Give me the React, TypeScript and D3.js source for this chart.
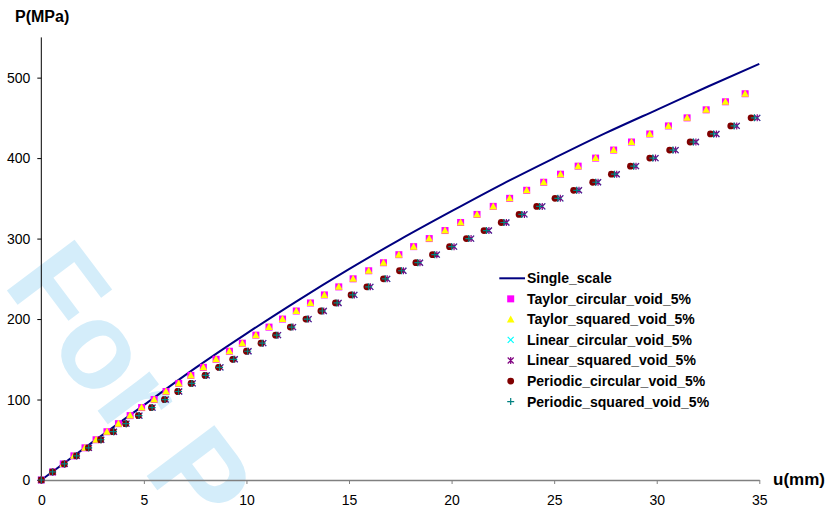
import {useEffect, useRef} from 'react';
import * as d3 from 'd3';

// Single scale curve (u in mm, P in MPa)
const singleU = [0, 2.5, 5, 7.5, 10, 12.5, 15, 17.5, 20, 22.5, 25, 27.5, 30, 32.5, 35];
const singleP = [0, 47, 93, 139, 182, 223, 262, 299, 334, 368, 400, 431, 460, 489, 517];

// Taylor model points
const taylorP = [0, 10, 20, 30, 40, 50, 60, 70, 80, 90, 100, 110, 120, 130, 140, 150, 160, 170, 180, 190, 200,
  210, 220, 230, 240, 250, 260, 270, 280, 290, 300, 310, 320, 330, 340, 350, 360, 370, 380, 390, 400,
  410, 420, 430, 440, 450, 460, 470, 480];
const taylorCircU = [0, 0.55, 1.07, 1.59, 2.13, 2.67, 3.2, 3.76, 4.33, 4.89, 5.5, 6.08, 6.7, 7.29, 7.9, 8.52,
  9.17, 9.8, 10.46, 11.1, 11.76, 12.43, 13.12, 13.8, 14.5, 15.2, 15.96, 16.68, 17.43, 18.15, 18.91, 19.68,
  20.44, 21.24, 22.03, 22.83, 23.66, 24.49, 25.31, 26.17, 27.02, 27.9, 28.77, 29.66, 30.57, 31.48, 32.41,
  33.35, 34.31];
const taylorSqU = [0, 0.55, 1.07, 1.59, 2.13, 2.67, 3.2, 3.76, 4.33, 4.89, 5.5, 6.08, 6.7, 7.29, 7.9, 8.52,
  9.17, 9.8, 10.46, 11.1, 11.76, 12.43, 13.12, 13.8, 14.5, 15.2, 15.96, 16.68, 17.43, 18.15, 18.91, 19.68,
  20.44, 21.24, 22.03, 22.83, 23.66, 24.49, 25.31, 26.17, 27.02, 27.9, 28.77, 29.66, 30.57, 31.48, 32.41,
  33.35, 34.31];

// Linear / Periodic model points
const otherP = [0, 10, 20, 30, 40, 50, 60, 70, 80, 90, 100, 110, 120, 130, 140, 150, 160, 170, 180, 190, 200,
  210, 220, 230, 240, 250, 260, 270, 280, 290, 300, 310, 320, 330, 340, 350, 360, 370, 380, 390, 400,
  410, 420, 430, 440, 450];
const linearCircU = [0, 0.56, 1.14, 1.73, 2.32, 2.92, 3.54, 4.15, 4.78, 5.42, 6.06, 6.72, 7.38, 8.06, 8.73,
  9.43, 10.1, 10.82, 11.54, 12.27, 13.03, 13.77, 14.49, 15.26, 16.04, 16.86, 17.65, 18.46, 19.28, 20.12,
  20.95, 21.82, 22.67, 23.55, 24.42, 25.3, 26.21, 27.14, 28.05, 28.99, 29.94, 30.92, 31.91, 32.91, 33.9, 34.9];
const linearSqU = [0, 0.56, 1.14, 1.73, 2.32, 2.92, 3.54, 4.15, 4.78, 5.42, 6.06, 6.72, 7.38, 8.06, 8.73,
  9.43, 10.1, 10.82, 11.54, 12.27, 13.03, 13.77, 14.49, 15.26, 16.04, 16.86, 17.65, 18.46, 19.28, 20.12,
  20.95, 21.82, 22.67, 23.55, 24.42, 25.3, 26.21, 27.14, 28.05, 28.99, 29.94, 30.92, 31.91, 32.91, 33.9, 34.9];
const periodicCircU = [0, 0.55, 1.12, 1.71, 2.29, 2.89, 3.5, 4.11, 4.73, 5.37, 6.0, 6.65, 7.3, 7.98, 8.64,
  9.33, 10.0, 10.71, 11.42, 12.14, 12.9, 13.63, 14.34, 15.1, 15.87, 16.68, 17.46, 18.26, 19.07, 19.9, 20.72,
  21.58, 22.42, 23.29, 24.15, 25.04, 25.95, 26.88, 27.79, 28.72, 29.66, 30.63, 31.63, 32.62, 33.61, 34.6];
const periodicSqU = [0, 0.55, 1.13, 1.72, 2.31, 2.91, 3.52, 4.13, 4.76, 5.4, 6.03, 6.69, 7.34, 8.02, 8.69,
  9.38, 10.06, 10.77, 11.48, 12.21, 12.97, 13.7, 14.42, 15.18, 15.96, 16.77, 17.56, 18.36, 19.18, 20.01,
  20.84, 21.7, 22.55, 23.42, 24.29, 25.18, 26.1, 27.03, 27.94, 28.88, 29.81, 30.79, 31.78, 32.77, 33.77, 34.76];

const xTicks = [0, 5, 10, 15, 20, 25, 30, 35];
const yTicks = [0, 100, 200, 300, 400, 500];

const series = [
  {name: 'Taylor_circular_void_5%', u: taylorCircU, p: taylorP, marker: 'square', color: '#ff00ff'},
  {name: 'Taylor_squared_void_5%', u: taylorSqU, p: taylorP, marker: 'triangle', color: '#ffff00'},
  {name: 'Linear_circular_void_5%', u: linearCircU, p: otherP, marker: 'x', color: '#00ffff'},
  {name: 'Linear_squared_void_5%', u: linearSqU, p: otherP, marker: 'asterisk', color: '#800080'},
  {name: 'Periodic_circular_void_5%', u: periodicCircU, p: otherP, marker: 'circle', color: '#800000'},
  {name: 'Periodic_squared_void_5%', u: periodicSqU, p: otherP, marker: 'plus', color: '#008080'},
];

const drawMarker = (g, kind, color, x, y) => {
  if (kind === 'square') {
    g.append('rect').attr('x', x - 3.5).attr('y', y - 3.5).attr('width', 7).attr('height', 7).attr('fill', color);
  } else if (kind === 'triangle') {
    g.append('path').attr('d', `M${x},${y - 4}L${x + 3.8},${y + 3}L${x - 3.8},${y + 3}Z`).attr('fill', color);
  } else if (kind === 'circle') {
    g.append('circle').attr('cx', x).attr('cy', y).attr('r', 3.4).attr('fill', color);
  } else if (kind === 'x') {
    g.append('path').attr('d', `M${x - 3},${y - 3}L${x + 3},${y + 3}M${x + 3},${y - 3}L${x - 3},${y + 3}`)
      .attr('stroke', color).attr('stroke-width', 1.2);
  } else if (kind === 'asterisk') {
    g.append('path').attr('d', `M${x - 3},${y - 3}L${x + 3},${y + 3}M${x + 3},${y - 3}L${x - 3},${y + 3}M${x},${y - 3.5}L${x},${y + 3.5}`)
      .attr('stroke', color).attr('stroke-width', 1.2);
  } else if (kind === 'plus') {
    g.append('path').attr('d', `M${x - 3.5},${y}L${x + 3.5},${y}M${x},${y - 3.5}L${x},${y + 3.5}`)
      .attr('stroke', color).attr('stroke-width', 1.2);
  }
};

const Chart = ({width, height}) => {
  const svgRef = useRef(null);

  useEffect(() => {
    const svg = d3.select(svgRef.current);
    svg.selectAll('*').remove();
    svg.attr('width', width).attr('height', height);

    const font = '"Liberation Sans", Arial, sans-serif';

    // Watermark (runs off the page, as in the original)
    svg.append('text')
      .attr('transform', 'translate(2, 284) rotate(53)')
      .style('font-family', font)
      .style('font-weight', 'bold')
      .style('font-size', '123px')
      .style('fill', '#d4edfa')
      .text('For P');

    const x = d3.scaleLinear().domain([0, 35]).range([41.3, 759.3]);
    const y = d3.scaleLinear().domain([0, 550]).range([480, 37.4]);

    // Y axis
    const yAxis = svg.append('g').attr('transform', `translate(${x(0)},0)`)
      .call(d3.axisLeft(y).tickValues(yTicks).tickSize(4).tickSizeOuter(0).tickPadding(7));
    yAxis.select('.domain').attr('stroke', '#000').attr('d', `M0,${y(550)}V${y(0)}`);
    yAxis.selectAll('text').style('font-family', font).style('font-size', '14px').attr('fill', '#000');

    // X axis
    const xAxis = svg.append('g').attr('transform', `translate(0,${y(0)})`)
      .call(d3.axisBottom(x).tickValues(xTicks).tickSize(4).tickSizeOuter(0).tickPadding(11));
    xAxis.select('.domain').attr('stroke', '#808080').attr('stroke-width', 1.5);
    xAxis.selectAll('.tick line').attr('stroke', '#808080');
    xAxis.selectAll('text').style('font-family', font).style('font-size', '14px').attr('fill', '#000');

    // Single scale line
    const line = d3.line().x((d, i) => x(singleU[i])).y(d => y(d)).curve(d3.curveNatural);
    svg.append('path')
      .datum(singleP)
      .attr('fill', 'none')
      .attr('stroke', '#000080')
      .attr('stroke-width', 2)
      .attr('d', line);

    // Marker series
    series.forEach(s => {
      const g = svg.append('g');
      s.u.forEach((u, i) => drawMarker(g, s.marker, s.color, x(u), y(s.p[i])));
    });

    // Axis titles
    svg.append('text')
      .attr('x', 15).attr('y', 22)
      .style('font-family', font).style('font-weight', 'bold').style('font-size', '16px')
      .text('P(MPa)');
    svg.append('text')
      .attr('x', 773).attr('y', 485)
      .style('font-family', font).style('font-weight', 'bold').style('font-size', '17px')
      .text('u(mm)');

    // Legend
    const legend = svg.append('g');
    const rowY = d => 278.3 + d * 20.55;
    legend.append('line')
      .attr('x1', 499.3).attr('x2', 525).attr('y1', rowY(0)).attr('y2', rowY(0))
      .attr('stroke', '#000080').attr('stroke-width', 2);
    legend.append('text')
      .attr('x', 527).attr('y', rowY(0)).attr('dy', '0.35em')
      .style('font-family', font).style('font-weight', 'bold').style('font-size', '14px')
      .text('Single_scale');
    series.forEach((s, i) => {
      drawMarker(legend, s.marker, s.color, 510.7, rowY(i + 1));
      legend.append('text')
        .attr('x', 527).attr('y', rowY(i + 1)).attr('dy', '0.35em')
        .style('font-family', font).style('font-weight', 'bold').style('font-size', '14px')
        .text(s.name);
    });
  }, [width, height]);

  return <svg ref={svgRef} style={{position: 'absolute', left: 0, top: 0, background: '#fff'}}/>;
};

export default function App() {
  return <Chart width={828} height={509}/>;
}
